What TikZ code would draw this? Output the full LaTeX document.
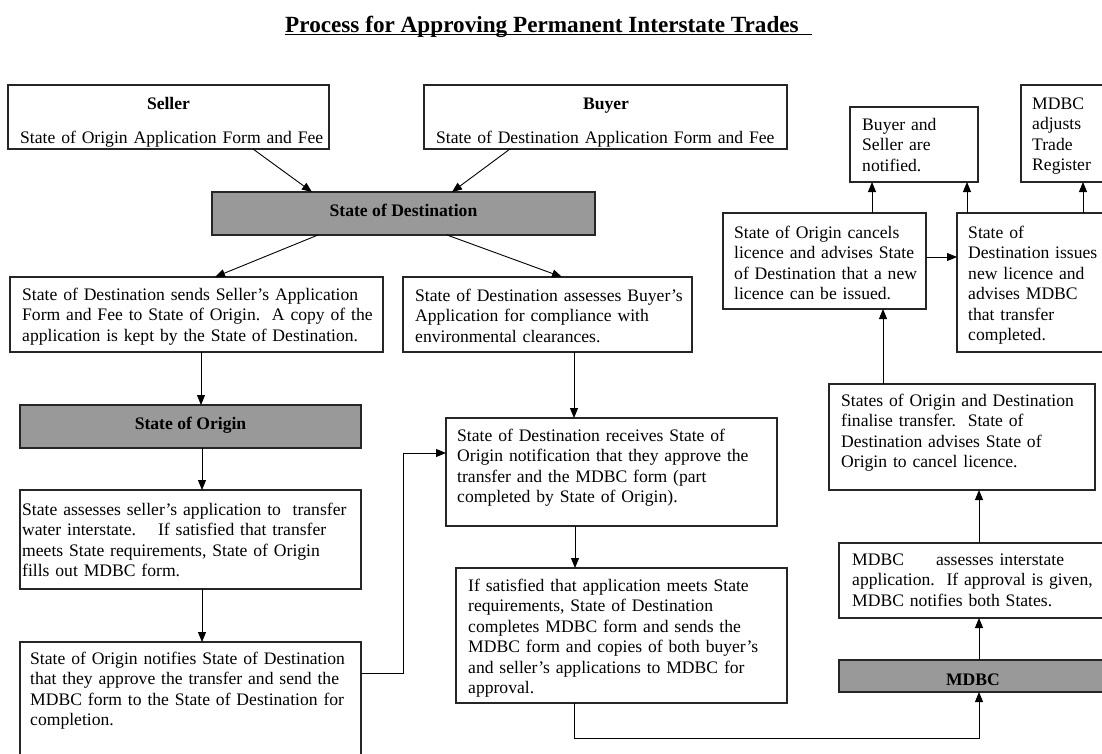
\documentclass[tikz,border=0pt]{standalone}
\usepackage{fontspec}
\setmainfont{Liberation Serif}
\usetikzlibrary{arrows.meta}
\begin{document}
\begin{tikzpicture}[x=1pt,y=-1pt,
  box/.style={draw=black!85, line width=1.1pt, fill=white, inner sep=0pt, outer sep=0pt, anchor=north west},
  gbox/.style={box, fill=black!40},
  txt/.style={anchor=base west, inner sep=0pt, align=left, text width=#1, font=\fontsize{17.6}{20.5}\selectfont},
  hdr/.style={anchor=base, inner sep=0pt, font=\fontsize{17.6}{20.5}\selectfont\bfseries},
  arr/.style={draw=black, line width=0.9pt, -{Triangle[length=10pt,width=8pt]}}
]
\useasboundingbox (0,0) rectangle (1102,753);

% title
\node[anchor=base west, inner sep=0pt, font=\fontsize{23.2}{26}\selectfont\bfseries] (title) at (285,32) {Process for Approving Permanent Interstate Trades};
\draw[line width=1.5pt] ([yshift=-2.5pt]title.base west) -- ([yshift=-2.5pt,xshift=13pt]title.base east);

% boxes
\node[box, minimum width=321pt, minimum height=64pt] (S) at (8,85) {};
\node[box, minimum width=363pt, minimum height=64pt] (Bu) at (424,85) {};
\node[gbox, minimum width=383pt, minimum height=43pt] (SD) at (212,192) {};
\node[box, minimum width=373pt, minimum height=75pt] (A) at (10,277) {};
\node[box, minimum width=289pt, minimum height=75pt] (B) at (403,277) {};
\node[gbox, minimum width=341pt, minimum height=43pt] (SO) at (20,405) {};
\node[box, minimum width=341pt, minimum height=99pt] (C) at (20,490) {};
\node[box, minimum width=341pt, minimum height=130pt] (D) at (20,642) {};
\node[box, minimum width=331pt, minimum height=108pt] (E) at (446,418) {};
\node[box, minimum width=331pt, minimum height=135pt] (F) at (456,568) {};
\node[gbox, minimum width=280pt, minimum height=32pt] (M) at (839,660) {};
\node[box, minimum width=280pt, minimum height=75pt] (G) at (839,543) {};
\node[box, minimum width=266pt, minimum height=106pt] (H) at (829,384) {};
\node[box, minimum width=203pt, minimum height=96pt] (I) at (723,213) {};
\node[box, minimum width=160pt, minimum height=139pt] (J) at (957,213) {};
\node[box, minimum width=128pt, minimum height=75pt] (K) at (850,107) {};
\node[box, minimum width=100pt, minimum height=97pt] (L) at (1021,85) {};

% texts
\node[hdr] (S-h) at (168.5,109) {Seller};
\node[txt=310pt] (S-t) at (20,143) {State of Origin Application Form and Fee};
\node[hdr] (Bu-h) at (606,109) {Buyer};
\node[txt=350pt] (Bu-t) at (436,143) {State of Destination Application Form and Fee};
\node[hdr] (SD-h) at (403.5,216) {State of Destination};
\node[txt=365pt] (A-t) at (22,300) {State of Destination sends Seller’s Application\\Form and Fee to State of Origin.\ \ A copy of the\\application is kept by the State of Destination.};
\node[txt=280pt] (B-t) at (415,301) {State of Destination assesses Buyer’s\\Application for compliance with\\environmental clearances.};
\node[hdr] (SO-h) at (190.5,429) {State of Origin};
\node[txt=338pt] (C-t) at (22,515) {State assesses seller’s application to\ \ transfer\\water interstate.\hspace{22pt}If satisfied that transfer\\meets State requirements, State of Origin\\fills out MDBC form.};
\node[txt=330pt] (D-t) at (30,664) {State of Origin notifies State of Destination\\that they approve the transfer and send the\\MDBC form to the State of Destination for\\completion.};
\node[txt=318pt] (E-t) at (457,441) {State of Destination receives State of\\Origin notification that they approve the\\transfer and the MDBC form (part\\completed by State of Origin).};
\node[txt=318pt] (F-t) at (468,591) {If satisfied that application meets State\\requirements, State of Destination\\completes MDBC form and sends the\\MDBC form and copies of both buyer’s\\and seller’s applications to MDBC for\\approval.};
\node[hdr] (M-h) at (973,685) {MDBC};
\node[txt=255pt] (G-t) at (852,565) {MDBC\hspace{32pt}assesses interstate\\application.\ \ If approval is given,\\MDBC notifies both States.};
\node[txt=255pt] (H-t) at (841,406) {States of Origin and Destination\\finalise transfer.\ \ State of\\Destination advises State of\\Origin to cancel licence.};
\node[txt=195pt] (I-t) at (734,238) {State of Origin cancels\\licence and advises State\\of Destination that a new\\licence can be issued.};
\node[txt=145pt] (J-t) at (968,238) {State of\\Destination issues\\new licence and\\advises MDBC\\that transfer\\completed.};
\node[txt=115pt] (K-t) at (862,130) {Buyer and\\Seller are\\notified.};
\node[txt=80pt] (L-t) at (1032,109) {MDBC\\adjusts\\Trade\\Register};

% connectors
\draw[arr] ([xshift=245pt]S.south west) -- ([xshift=100pt]SD.north west);
\draw[arr] ([xshift=86pt]Bu.south west) -- ([xshift=240pt]SD.north west);
\draw[arr] ([xshift=106pt]SD.south west) -- ([xshift=205pt]A.north west);
\draw[arr] ([xshift=235pt]SD.south west) -- ([xshift=159pt]B.north west);
\draw[arr] ([xshift=191pt]A.south west) -- ([xshift=191pt]A.south west |- SO.north);
\draw[arr] ([xshift=182pt]SO.south west) -- ([xshift=182pt]SO.south west |- C.north);
\draw[arr] ([xshift=182pt]C.south west) -- ([xshift=182pt]C.south west |- D.north);
\draw[arr] ([xshift=171pt]B.south west) -- ([xshift=171pt]B.south west |- E.north);
\draw[arr] ([xshift=129pt]E.south west) -- ([xshift=129pt]E.south west |- F.north);
\draw[arr] ([yshift=-31pt]D.north east) -- ++(42,0) |- ([yshift=-35pt]E.north west);
\draw[arr] ([xshift=118pt]F.south west) -- ++(0,35) -| ([xshift=140pt]M.south west);
\draw[arr] ([xshift=140pt]M.north west) -- ([xshift=140pt]M.north west |- G.south);
\draw[arr] ([xshift=140pt]G.north west) -- ([xshift=140pt]G.north west |- H.south);
\draw[arr] ([xshift=54pt]H.north west) -- ([xshift=54pt]H.north west |- I.south);
\draw[arr] ([yshift=-44pt]I.north east) -- ([yshift=-44pt]I.north east -| J.west);
\draw[arr] ([xshift=149pt]I.north west) -- ([xshift=149pt]I.north west |- K.south);
\draw[arr] ([xshift=10pt]J.north west) -- ([xshift=10pt]J.north west |- K.south);
\draw[arr] ([xshift=126pt]J.north west) -- ([xshift=126pt]J.north west |- L.south);
\end{tikzpicture}
\end{document}
